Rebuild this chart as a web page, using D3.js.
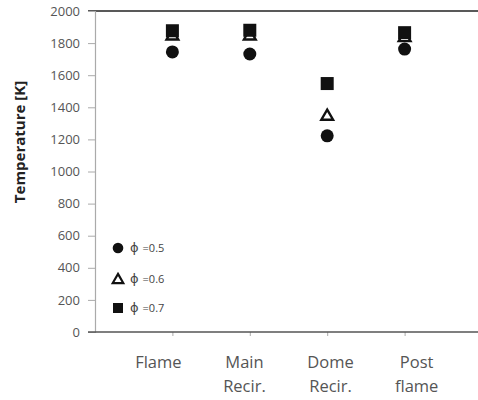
<!DOCTYPE html>
<html><head><meta charset="utf-8">
<script src="https://cdn.jsdelivr.net/npm/d3@7"></script>
<style>body{margin:0;background:#fff}svg{display:block}</style>
</head><body>
<script>
const categories = [["Flame"], ["Main","Recir."], ["Dome","Recir."], ["Post","flame"]];
const catKeys = ["Flame","Main Recir.","Dome Recir.","Post flame"];
const phi05 = [1745, 1732, 1222, 1763];
const phi06 = [1850, 1850, 1350, 1840];
const phi07 = [1877, 1880, 1548, 1865];
const yTicks = [0,200,400,600,800,1000,1200,1400,1600,1800,2000];
const legendValues = ["=0.5","=0.6","=0.7"];

const W=478,H=400;
const svg=d3.select("body").append("svg").attr("width",W).attr("height",H);
const x=d3.scalePoint().domain(catKeys).range([95,482]).padding(1);
const y=d3.scaleLinear().domain([0,2000]).range([332,11]);

svg.append("line").attr("x1",88).attr("x2",W).attr("y1",y(2000)).attr("y2",y(2000))
  .attr("stroke","#222").attr("stroke-width",1.5);

const ya=svg.append("g").attr("transform","translate(95,0)")
  .call(d3.axisLeft(y).tickValues(yTicks).tickSize(7).tickPadding(8).tickFormat(d3.format("d")));
ya.select(".domain").attr("stroke","#aaa").attr("stroke-width",1.2);
ya.selectAll(".tick line").attr("stroke","#aaa");
ya.selectAll("text").attr("font-family","Open Sans").attr("font-size",13).attr("fill","#555");

const xa=svg.append("g").attr("transform","translate(0,332)")
  .call(d3.axisBottom(x).tickSize(4).tickFormat(""));
xa.select(".domain").remove();
xa.selectAll(".tick line").attr("stroke","#aaa");
svg.append("line").attr("x1",88).attr("x2",W).attr("y1",332).attr("y2",332)
  .attr("stroke","#555").attr("stroke-width",1.5);

categories.forEach((lines,i)=>{
  const cx=x(catKeys[i])+(i-1.5)*8.7-1;
  const t=svg.append("text").attr("text-anchor","middle").attr("font-family","Open Sans")
    .attr("font-size",16.5).attr("fill","#555");
  lines.forEach((l,j)=>t.append("tspan").attr("x",cx).attr("y",368+j*24).text(l));
});

svg.append("text").attr("transform","translate(25,142) rotate(-90)")
  .attr("text-anchor","middle").attr("font-family","Open Sans").attr("font-weight","bold")
  .attr("font-size",15).attr("fill","#222").text("Temperature [K]");

const tri=d3.symbol().type(d3.symbolTriangle);
const g=svg.append("g");
g.selectAll("circle.d").data(phi05).join("circle").attr("cx",(d,i)=>x(catKeys[i])).attr("cy",d=>y(d))
  .attr("r",6.5).attr("fill","#111");
g.selectAll("path.d").data(phi06).join("path")
  .attr("transform",(d,i)=>`translate(${x(catKeys[i])},${y(d)+1})`)
  .attr("d",tri.size(60)()).attr("fill","#fff").attr("stroke","#111").attr("stroke-width",2.4);
g.selectAll("rect.d").data(phi07).join("rect").attr("x",(d,i)=>x(catKeys[i])-6.5).attr("y",d=>y(d)-6.5)
  .attr("width",13).attr("height",13).attr("fill","#111");

const ly=[248,279,308];
const lg=svg.append("g");
lg.append("circle").attr("cx",118).attr("cy",ly[0]).attr("r",5.3).attr("fill","#111");
lg.append("path").attr("transform",`translate(118,${ly[1]+1})`).attr("d",tri.size(48)())
  .attr("fill","#fff").attr("stroke","#111").attr("stroke-width",2.2);
lg.append("rect").attr("x",113).attr("y",ly[2]-5).attr("width",10).attr("height",10).attr("fill","#111");
legendValues.forEach((t,i)=>{
  const tx=lg.append("text").attr("x",130).attr("y",ly[i]+4).attr("font-family","DejaVu Sans")
    .attr("font-size",11).attr("fill","#444");
  tx.append("tspan").attr("font-family","DejaVu Sans").attr("font-size",13).text("\u03D5");
  tx.append("tspan").attr("dx",4).attr("font-family","Open Sans").text(t);
});
</script>
</body></html>
